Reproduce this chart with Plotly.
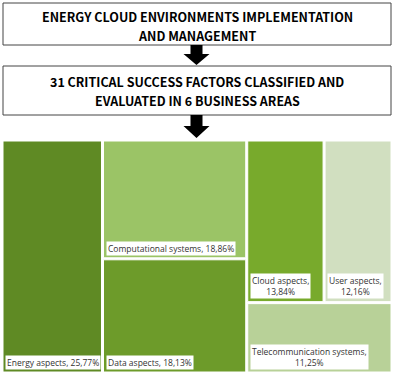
import plotly.graph_objects as go

# ---- data ----
categories = ["Energy aspects", "Computational systems", "Data aspects",
              "Cloud aspects", "User aspects", "Telecommunication systems"]
shares = [25.77, 18.86, 18.13, 13.84, 12.16, 11.25]
colors = ["#5f8a24", "#9bc466", "#6d9b2a", "#78aa2c", "#d1dfc0", "#b8d198"]
# grouping used by the (Excel-like) slice/dice layout
group_of = ["", "g1", "g1", "g3", "g3", "g4"]
groups = ["g1", "g2", "g3", "g4"]
group_parent = ["", "", "g2", "g2"]
wrapped = ["Cloud aspects", "User aspects", "Telecommunication systems"]

title_lines = ["ENERGY CLOUD ENVIRONMENTS IMPLEMENTATION", "AND MANAGEMENT",
               "31 CRITICAL SUCCESS FACTORS CLASSIFIED AND",
               "EVALUATED IN 6 BUSINESS AREAS"]

W, H = 394, 374
TM_X0, TM_X1, TM_Y0, TM_Y1 = 3, 391, 141, 372  # treemap area in px
PAD = 2

def px(x):
    return x / W

def py(y):
    return 1 - y / H

# ---- treemap trace ----
ids = categories + groups
parents = group_of + group_parent
values = shares + [0] * len(groups)
mcolors = colors + ["white"] * len(groups)

fig = go.Figure(go.Treemap(
    ids=ids, labels=ids, parents=parents, values=values,
    branchvalues="remainder", sort=False,
    marker=dict(colors=mcolors, line=dict(width=1, color="white"),
                pad=dict(t=0, l=0, r=0, b=0)),
    tiling=dict(packing="slice-dice", pad=PAD),
    pathbar=dict(visible=False),
    textinfo="none", hoverinfo="skip",
    domain=dict(x=[px(TM_X0), px(TM_X1)], y=[py(TM_Y1), py(TM_Y0)]),
))

# ---- compute tile rectangles (same slice/dice logic) for label placement ----
children = {}
node_val = {}
for c, g, v in zip(ids, parents, values):
    children.setdefault(g, []).append(c)
for c, v in zip(categories, shares):
    node_val[c] = v

def total(n):
    if n in node_val:
        return node_val[n]
    return sum(total(c) for c in children[n])

rects = {}
def layout(n, x0, y0, x1, y1, depth):
    rects[n] = (x0, y0, x1, y1)
    kids = children.get(n, [])
    if not kids:
        return
    tot = total(n)
    if depth % 2 == 0:
        avail = (x1 - x0) - PAD * (len(kids) - 1)
        cx = x0
        for k in kids:
            w = avail * total(k) / tot
            layout(k, cx, y0, cx + w, y1, depth + 1)
            cx += w + PAD
    else:
        avail = (y1 - y0) - PAD * (len(kids) - 1)
        cy = y0
        for k in kids:
            h = avail * total(k) / tot
            layout(k, x0, cy, x1, cy + h, depth + 1)
            cy += h + PAD

layout("", TM_X0, TM_Y0, TM_X1, TM_Y1, 0)

annotations = []
for c, v in zip(categories, shares):
    x0, y0, x1, y1 = rects[c]
    val = f"{v:.2f}%".replace(".", ",")
    txt = f"{c},<br>{val}" if c in wrapped else f"{c}, {val}"
    annotations.append(dict(
        x=px(x0 + 2), y=py(y1 - 2), xref="paper", yref="paper",
        xanchor="left", yanchor="bottom", text=txt, showarrow=False,
        align="center", bgcolor="white", borderpad=1,
        font=dict(family="Open Sans", size=8.5, color="#333333")))

# ---- header boxes and arrows ----
shapes = []
for (y0, y1) in [(3, 45), (66, 115)]:
    shapes.append(dict(type="rect", xref="paper", yref="paper",
                       x0=px(3), x1=px(391), y0=py(y1), y1=py(y0),
                       line=dict(color="#444444", width=1), fillcolor="white"))

def arrow(yt, ym, yb, cx=196.5, sw=6, hw=13):
    pts = [(cx - sw, yt), (cx + sw, yt), (cx + sw, ym), (cx + hw, ym),
           (cx, yb), (cx - hw, ym), (cx - sw, ym)]
    return "M " + " L ".join(f"{px(x):.5f},{py(y):.5f}" for x, y in pts) + " Z"

for (yt, ym, yb) in [(45, 54, 65), (115, 126, 138)]:
    shapes.append(dict(type="path", xref="paper", yref="paper",
                       path=arrow(yt, ym, yb), fillcolor="black",
                       line=dict(color="black", width=0)))

for txt, yc in zip(title_lines, [16.5, 35.5, 81.5, 100.5]):
    annotations.append(dict(
        x=px(197), y=py(yc), xref="paper", yref="paper", text=txt,
        showarrow=False, xanchor="center", yanchor="middle", align="center",
        font=dict(family="Noto Sans CJK KR", size=12.5, color="black",
                  weight="bold")))

fig.update_layout(
    width=W, height=H, margin=dict(l=0, r=0, t=0, b=0),
    paper_bgcolor="white", plot_bgcolor="white",
    shapes=shapes, annotations=annotations, showlegend=False,
)

fig.write_html("out.html", config={"displayModeBar": False},
               post_script="document.body.style.margin='0';"
                           "document.body.style.overflow='hidden';")
